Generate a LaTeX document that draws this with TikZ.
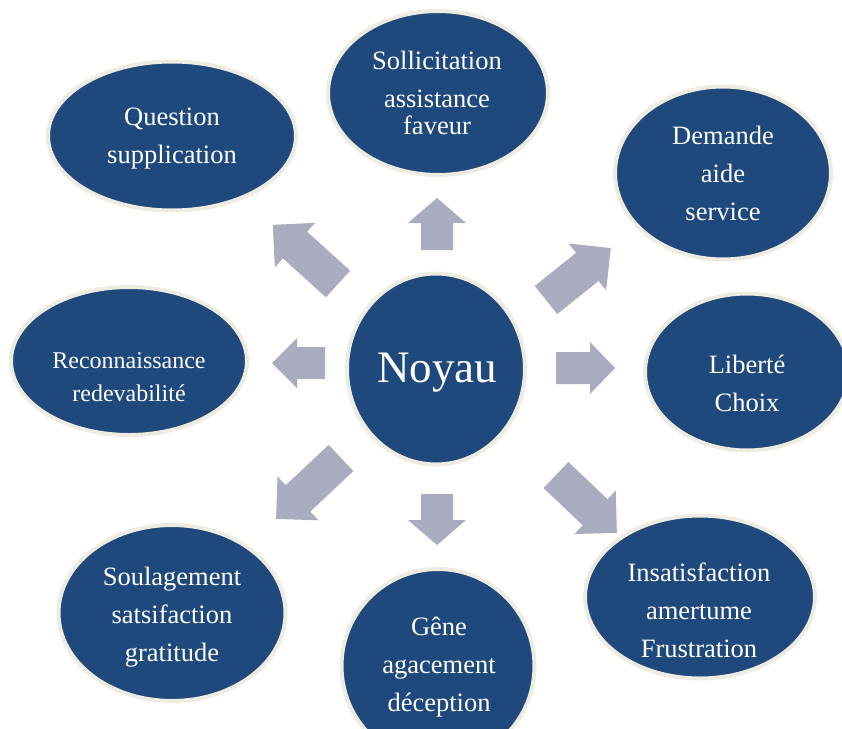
\documentclass[tikz,border=0pt]{standalone}
\usepackage{fontspec}
\setmainfont{Liberation Serif}
\usetikzlibrary{shapes.geometric}
\definecolor{bubbleblue}{HTML}{1F497D}
\definecolor{bubblerim}{HTML}{EEECE1}
\definecolor{arrowgray}{HTML}{A8ACBE}
\begin{document}
\begin{tikzpicture}[x=1pt,y=-1pt,
  bubble/.style={ellipse, fill=bubbleblue, draw=bubblerim, line width=4pt, inner sep=0pt},
  caption/.style={text=white, align=center, inner sep=0pt, font=\fontsize{26.5}{38}\selectfont},
  pics/blockarrow/.style n args={4}{code={
    % #1 length, #2 shaft half width, #3 head half width, #4 head length
    \fill[arrowgray] (0,-#2) -- ({#1-#4},-#2) -- ({#1-#4},-#3) -- (#1,0)
      -- ({#1-#4},#3) -- ({#1-#4},#2) -- (0,#2) -- cycle;}}]
\useasboundingbox (0,0) rectangle (842,728);
\fill[white] (0,0) rectangle (842,728);
\clip (0,0) rectangle (842,728);

% block arrows radiating from the core
\pic[rotate=90]     at (437,250) {blockarrow={52}{16}{29}{25}};
\pic[rotate=-90]    at (437,494) {blockarrow={51}{16}{29}{25}};
\pic[rotate=0]      at (556,368) {blockarrow={59}{16}{26}{25}};
\pic[rotate=180]    at (325,363) {blockarrow={53}{16}{25}{25}};
\pic[rotate=137.8]  at (338,284) {blockarrow={88}{18}{30}{30}};
\pic[rotate=38.7]   at (546,300) {blockarrow={83}{18}{30}{30}};
\pic[rotate=-136.8] at (341,458) {blockarrow={89}{18}{30}{30}};
\pic[rotate=-43.6]  at (556,475) {blockarrow={84}{18}{30}{30}};

% bubbles
\node[bubble, minimum width=178, minimum height=191] (core)  at (436,369) {};
\node[bubble, minimum width=248, minimum height=149] (quest) at (172,136) {};
\node[bubble, minimum width=220, minimum height=164] (soll)  at (438,93)  {};
\node[bubble, minimum width=216, minimum height=173] (dem)   at (723,173) {};
\node[bubble, minimum width=236, minimum height=148] (rec)   at (129,361) {};
\node[bubble, minimum width=204, minimum height=157] (lib)   at (747,372) {};
\node[bubble, minimum width=227, minimum height=176] (soul)  at (172,613) {};
\node[bubble, minimum width=193, minimum height=194] (gene)  at (438,666) {};
\node[bubble, minimum width=230, minimum height=163] (insat) at (700,597) {};

% captions
\node[caption, font=\fontsize{45}{50}\selectfont] (tcore) at (437,373) {Noyau};
\node[caption] (tquest) at (172,139) {Question\\supplication};
\node[caption, font=\fontsize{26.5}{27}\selectfont] (tsoll) at (437,92.5) {Sollicitation\\[11pt]assistance\\faveur};
\node[caption] (tdem) at (723,173) {Demande\\aide\\service};
\node[caption, font=\fontsize{24}{33}\selectfont] (trec) at (129,377) {Reconnaissance\\redevabilité};
\node[caption] (tlib) at (747,383.5) {Liberté\\Choix};
\node[caption] (tsoul) at (172,617) {Soulagement\\satsifaction\\gratitude};
\node[caption] (tgene) at (439,667.5) {Gêne\\agacement\\déception};
\node[caption] (tinsat) at (699,610) {Insatisfaction\\amertume\\Frustration};
\end{tikzpicture}
\end{document}
